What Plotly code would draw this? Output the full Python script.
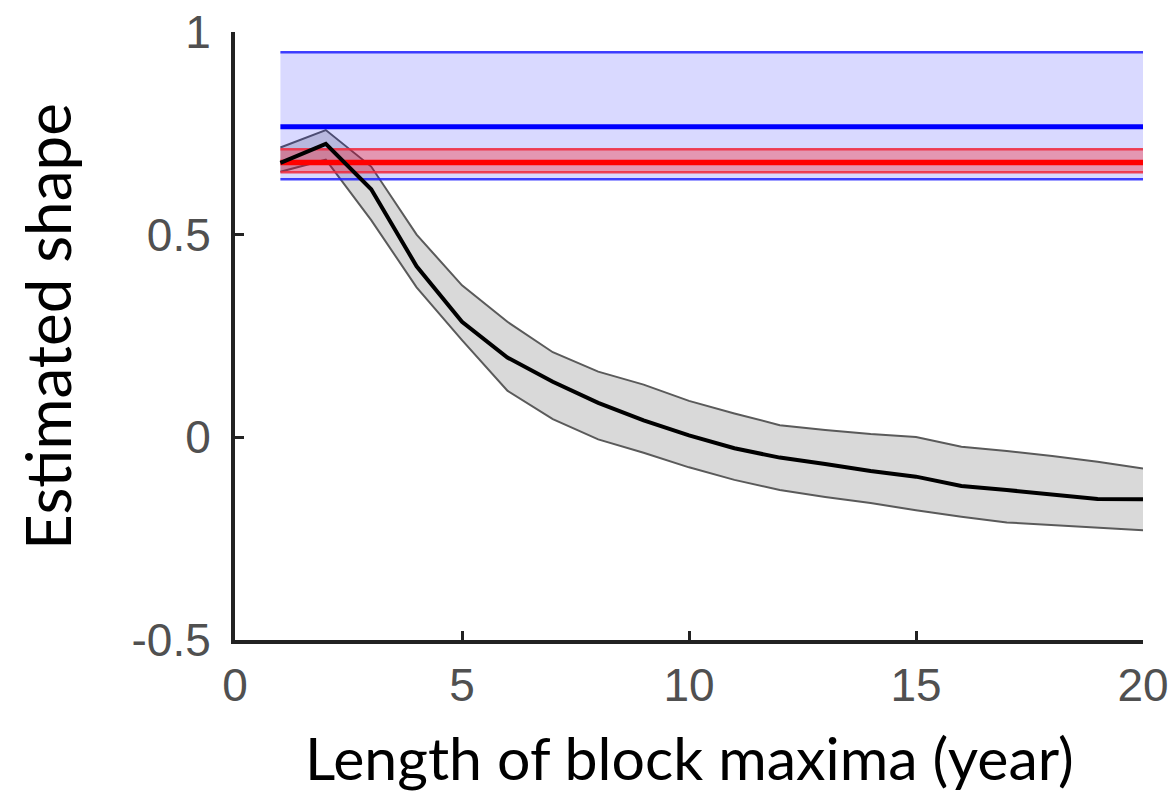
import plotly.graph_objects as go

# ---- data ----
block_years = list(range(1, 21))
shape_mean = [0.677, 0.724, 0.612, 0.422, 0.285, 0.197, 0.137, 0.085, 0.042, 0.005,
              -0.027, -0.050, -0.066, -0.083, -0.097, -0.120, -0.130, -0.142, -0.152, -0.153]
shape_upper = [0.715, 0.758, 0.668, 0.500, 0.375, 0.285, 0.210, 0.162, 0.130, 0.090,
               0.059, 0.030, 0.018, 0.008, 0.001, -0.023, -0.034, -0.046, -0.060, -0.077]
shape_lower = [0.655, 0.685, 0.536, 0.370, 0.240, 0.115, 0.045, -0.005, -0.038, -0.074,
               -0.105, -0.130, -0.147, -0.162, -0.180, -0.196, -0.210, -0.216, -0.223, -0.229]

ref_x = [1, 20]
blue_low, blue_mid, blue_high = 0.637, 0.766, 0.950
red_low, red_mid, red_high = 0.654, 0.678, 0.711

x_ticks = [0, 5, 10, 15, 20]
y_ticks = [-0.5, 0, 0.5, 1]
y_ticktext = ["-0.5", "0", "0.5", "1"]

fig = go.Figure()

# gray confidence band
fig.add_trace(go.Scatter(x=block_years, y=shape_lower, mode="lines",
                         line=dict(color="#5a5a5a", width=2), showlegend=False))
fig.add_trace(go.Scatter(x=block_years, y=shape_upper, mode="lines", fill="tonexty",
                         fillcolor="#d9d9d9", line=dict(color="#5a5a5a", width=2),
                         showlegend=False))

# blue reference band
fig.add_trace(go.Scatter(x=ref_x, y=[blue_low] * 2, mode="lines",
                         line=dict(color="rgba(30,30,255,0.85)", width=2.5), showlegend=False))
fig.add_trace(go.Scatter(x=ref_x, y=[blue_high] * 2, mode="lines", fill="tonexty",
                         fillcolor="rgba(0,0,255,0.15)",
                         line=dict(color="rgba(30,30,255,0.85)", width=2.5), showlegend=False))
fig.add_trace(go.Scatter(x=ref_x, y=[blue_mid] * 2, mode="lines",
                         line=dict(color="#0000ff", width=5), showlegend=False))

# red reference band
fig.add_trace(go.Scatter(x=ref_x, y=[red_low] * 2, mode="lines",
                         line=dict(color="rgba(240,40,60,0.85)", width=2.5), showlegend=False))
fig.add_trace(go.Scatter(x=ref_x, y=[red_high] * 2, mode="lines", fill="tonexty",
                         fillcolor="rgba(255,0,0,0.3)",
                         line=dict(color="rgba(240,40,60,0.85)", width=2.5), showlegend=False))
fig.add_trace(go.Scatter(x=ref_x, y=[red_mid] * 2, mode="lines",
                         line=dict(color="#ff0000", width=5.5), showlegend=False))

# mean estimate
fig.add_trace(go.Scatter(x=block_years, y=shape_mean, mode="lines",
                         line=dict(color="#000000", width=4), showlegend=False))

tick_font = dict(family="Liberation Sans, Arial, sans-serif", size=46, color="#505050")

fig.update_layout(
    width=1168, height=787,
    margin=dict(l=227, r=33, t=24, b=155),
    paper_bgcolor="white", plot_bgcolor="white",
    xaxis=dict(range=[0, 20], tickvals=x_ticks, ticks="inside", ticklen=9, tickwidth=3,
               tickcolor="#222222", showline=True, linecolor="#222222", linewidth=4,
               showgrid=False, zeroline=False, tickfont=tick_font, ticklabelstandoff=2,
               automargin=False, ticklabeloverflow="allow"),
    yaxis=dict(range=[-0.5, 1], tickvals=y_ticks, ticktext=y_ticktext, ticks="inside",
               ticklen=9, tickwidth=3, tickcolor="#222222", showline=True,
               linecolor="#222222", linewidth=4, showgrid=False, zeroline=False,
               tickfont=tick_font, ticklabelstandoff=11, automargin=False,
               ticklabeloverflow="allow"),
    annotations=[
        dict(text="Length of block maxima (year)", xref="paper", yref="paper",
             x=0.5, y=-0.194, xanchor="center", yanchor="middle", showarrow=False,
             font=dict(family="Lato, Open Sans, sans-serif", size=59, color="#000000")),
        dict(text="Estimated shape", xref="paper", yref="paper",
             x=-0.207, y=0.515, xanchor="center", yanchor="middle", showarrow=False,
             textangle=-90,
             font=dict(family="Lato, Open Sans, sans-serif", size=62, color="#000000")),
    ],
)

fig.write_html("out.html")
